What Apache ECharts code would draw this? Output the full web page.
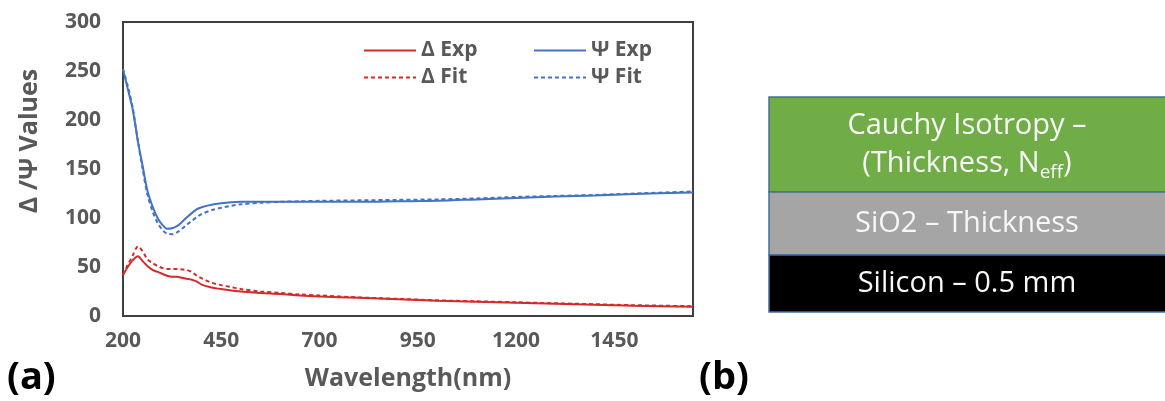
<!DOCTYPE html>
<html>
<head>
<meta charset="utf-8">
<script src="https://cdn.jsdelivr.net/npm/echarts@6/dist/echarts.min.js"></script>
<style>
  html, body { margin: 0; padding: 0; background: #fff; }
  #main { width: 1165px; height: 401px; }
</style>
</head>
<body>
<div id="main"></div>
<script>
// wavelength (nm) and the four ellipsometry curves
var wavelength = [200, 212, 225, 238, 250, 262, 275, 288, 300, 312, 325, 338, 350, 362, 375, 388, 400, 425, 450, 475, 500, 550, 600, 650, 700, 800, 900, 1000, 1100, 1200, 1300, 1400, 1500, 1650];
var deltaExp = [42, 50, 57, 61, 56, 51, 47, 45, 43, 41, 40, 40, 39, 38, 37, 35, 32, 29, 27.5, 26, 25, 23.5, 22.5, 21, 20, 18.5, 17, 15.5, 14.5, 13.5, 12.5, 11.5, 10.5, 9.5];
var deltaFit = [42, 52, 62, 71, 66, 58, 54, 51, 49, 48, 48, 48, 47.5, 47, 45, 41, 38.5, 34, 31.5, 29.5, 27.5, 25, 23.5, 22, 21, 19, 17.5, 16, 15, 14, 13, 12, 11, 10];
var psiExp = [252, 232, 210, 178, 153, 128, 112, 100, 93, 89, 89.5, 92, 96, 100.5, 105, 109, 111, 113.5, 115, 116, 116.5, 116.5, 116.5, 116.5, 116.5, 116.5, 117, 117.5, 119, 120.5, 122, 123, 124.5, 126];
var psiFit = [252, 235, 212, 178, 150, 124, 107, 95, 88, 84, 83.5, 85.5, 89, 93, 97, 101, 104, 108, 110.5, 112.5, 114, 115.5, 116.5, 117, 117.5, 118, 118.5, 119, 120, 121.5, 122.5, 123.5, 125, 127];

var xTicks = [200, 450, 700, 950, 1200, 1450];
var yTicks = [0, 50, 100, 150, 200, 250, 300];

// layer stack of panel (b)
var layerNames = ['Cauchy Isotropy –\n(Thickness, N{sub|eff})', 'SiO2 – Thickness', 'Silicon – 0.5 mm'];
var layerColors = ['#70ad47', '#a5a5a5', '#000000'];

var red = '#d42a2a';
var blue = '#4472c4';
var grey = '#595959';
var font = 'Open Sans';

function pairs(xs, ys) {
    var out = [];
    for (var i = 0; i < xs.length; i++) out.push([xs[i], ys[i]]);
    return out;
}

function line(name, ys, color, dashed) {
    return {
        name: name,
        type: 'line',
        data: pairs(wavelength, ys),
        smooth: 0.3,
        symbol: 'none',
        lineStyle: { color: color, width: 2, type: dashed ? [4, 3] : 'solid' },
        itemStyle: { color: color }
    };
}

// panel (b) drawing
var layerTops = [97, 192, 255];
var layerBottoms = [192, 255, 312];
var graphics = [];
for (var i = 0; i < layerNames.length; i++) {
    graphics.push({
        type: 'rect',
        shape: { x: 769, y: layerTops[i], width: 400, height: layerBottoms[i] - layerTops[i] },
        style: { fill: layerColors[i], stroke: '#41719c', lineWidth: 1.5 }
    });
}
for (var j = 0; j < layerNames.length; j++) {
    graphics.push({
        type: 'text',
        x: 967,
        y: (layerTops[j] + layerBottoms[j]) / 2,
        style: {
            text: layerNames[j],
            fill: '#f7f7f7',
            font: '29px "' + font + '"',
            textAlign: 'center',
            textVerticalAlign: 'middle',
            lineHeight: 38,
            rich: {
                sub: { fontSize: 19, fontFamily: font, fill: '#f7f7f7', verticalAlign: 'bottom', padding: [16, 0, 0, 0] }
            }
        }
    });
}
graphics.push({
    type: 'text', x: 30, y: 141, rotation: Math.PI / 2,
    style: { text: 'Δ /Ψ Values', fill: grey, font: 'bold 25px "' + font + '"', textAlign: 'center', textVerticalAlign: 'middle' }
});
graphics.push({
    type: 'text', x: 7, y: 378,
    style: { text: '(a)', fill: '#000', font: 'bold 38px "' + font + '"', textAlign: 'left', textVerticalAlign: 'middle' }
});
graphics.push({
    type: 'text', x: 699, y: 378,
    style: { text: '(b)', fill: '#000', font: 'bold 38px "' + font + '"', textAlign: 'left', textVerticalAlign: 'middle' }
});

var legendText = { color: grey, fontSize: 21, fontWeight: 'bold', fontFamily: font };

var myChart = echarts.init(document.getElementById('main'));
myChart.setOption({
    backgroundColor: '#fff',
    animation: false,
    grid: {
        left: 123, top: 22, right: 472, bottom: 85,
        show: true, borderColor: '#3f3f3f', borderWidth: 2, backgroundColor: 'transparent'
    },
    legend: [
        {
            data: ['Δ Exp', 'Δ Fit'], orient: 'vertical', left: 358, top: 35,
            itemWidth: 52, itemHeight: 14, itemGap: 6, textStyle: legendText,
            itemStyle: { opacity: 0 }
        },
        {
            data: ['Ψ Exp', 'Ψ Fit'], orient: 'vertical', left: 528, top: 35,
            itemWidth: 52, itemHeight: 14, itemGap: 6, textStyle: legendText,
            itemStyle: { opacity: 0 }
        }
    ],
    xAxis: {
        type: 'value',
        min: 200,
        max: 1650,
        axisLine: { show: false },
        axisTick: { show: false },
        splitLine: { show: false },
        axisLabel: {
            customValues: xTicks,
            formatter: function (v) { return String(v); },
            color: grey, fontSize: 21, fontWeight: 'bold', fontFamily: font, margin: 15
        },
        name: 'Wavelength(nm)',
        nameLocation: 'middle',
        nameGap: 50,
        nameTextStyle: { color: grey, fontSize: 25, fontWeight: 'bold', fontFamily: font }
    },
    yAxis: {
        type: 'value',
        min: 0,
        max: 300,
        interval: 50,
        axisLine: { show: false },
        axisTick: { show: false },
        splitLine: { show: false },
        axisLabel: {
            customValues: yTicks,
            color: grey, fontSize: 21, fontWeight: 'bold', fontFamily: font, margin: 22
        }
    },
    graphic: graphics,
    series: [
        line('Δ Exp', deltaExp, red, false),
        line('Δ Fit', deltaFit, red, true),
        line('Ψ Exp', psiExp, blue, false),
        line('Ψ Fit', psiFit, blue, true)
    ]
});
</script>
</body>
</html>
